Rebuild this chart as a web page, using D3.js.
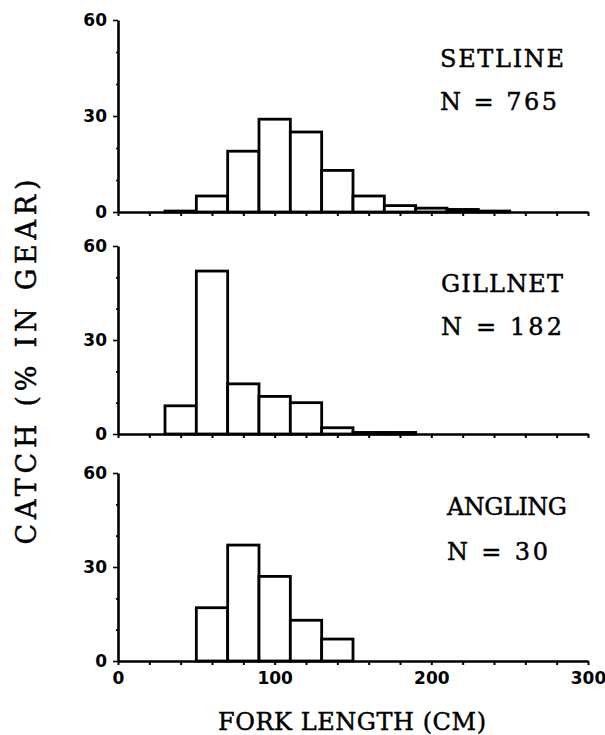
<!DOCTYPE html>
<html>
<head>
<meta charset="utf-8">
<script src="https://cdn.jsdelivr.net/npm/d3@7"></script>
<style>
  body { margin: 0; background: #fff; }
  svg { display: block; }
  .tick text { font-family: "DejaVu Sans", sans-serif; font-weight: bold; font-size: 17px; fill: #000; }
  .lbl { font-family: "DejaVu Serif", serif; font-size: 24px; fill: #000; stroke: #000; stroke-width: 0.45px; }
</style>
</head>
<body>
<svg id="chart" width="605" height="735"></svg>
<script>
// Fork length histograms, % of catch in each gear
const binStart = [30, 50, 70, 90, 110, 130, 150, 170, 190, 210, 230];
const binWidth = 20;
const setline = [0.3, 5, 19, 29, 25, 13, 5, 2, 1.2, 0.8, 0.3];
const gillnet = [9, 52, 16, 12, 10, 2, 0.5, 0.5, 0, 0, 0];
const angling = [0, 17, 37, 27, 13, 7, 0, 0, 0, 0, 0];

const gears = ["SETLINE", "GILLNET", "ANGLING"];
const counts = [765, 182, 30];
const series = [setline, gillnet, angling];

const xTicks = [0, 20, 40, 60, 80, 100, 120, 140, 160, 180, 200, 220, 240, 260, 280, 300];
const xLabels = [0, 100, 200, 300];
const yTicks = [0, 10, 20, 30, 40, 50, 60];
const yLabels = [0, 30, 60];

// layout of the three stacked panels (top / bottom pixel of y axis)
const panelTop = [20, 246, 473];
const panelBottom = [212, 434, 661];
// gear label placement: left x, baselines and text widths
const labelX = [440, 441, 447];
const nameY = [67, 292, 515];
const countY = [110, 335, 560];
const nameW = [124, 122, 120];
const countW = [117, 121, 101];

const svg = d3.select("#chart");

const x = d3.scaleLinear().domain([0, 300]).range([118, 588]);

series.forEach((vals, i) => {
    const y = d3.scaleLinear().domain([0, 60]).range([panelBottom[i], panelTop[i]]);
    const g = svg.append("g");

    const bins = vals.map((v, j) => ({ x0: binStart[j], x1: binStart[j] + binWidth, v: v }))
        .filter(d => d.v > 0);

    g.selectAll("rect")
        .data(bins)
        .enter()
        .append("rect")
        .attr("x", d => x(d.x0))
        .attr("y", d => y(d.v))
        .attr("width", d => x(d.x1) - x(d.x0))
        .attr("height", d => y(0) - y(d.v))
        .style("fill", "#fff")
        .style("stroke", "#000")
        .style("stroke-width", 2.8);

    // x axis
    const isLast = i === series.length - 1;
    const xAxis = d3.axisBottom(x)
        .tickValues(xTicks)
        .tickSize(4)
        .tickSizeOuter(0)
        .tickPadding(7)
        .tickFormat(d => (isLast && xLabels.includes(d)) ? d : "");
    const gx = g.append("g")
        .attr("transform", `translate(0,${y(0)})`)
        .call(xAxis);
    gx.select(".domain").style("stroke-width", 2.6);
    gx.selectAll(".tick line").style("stroke-width", 2);

    // y axis
    const yAxis = d3.axisLeft(y)
        .tickValues(yTicks)
        .tickSize(5)
        .tickSizeOuter(0)
        .tickPadding(6)
        .tickFormat(d => yLabels.includes(d) ? d : "");
    const gy = g.append("g")
        .attr("transform", `translate(${x(0)},0)`)
        .call(yAxis);
    gy.select(".domain").style("stroke-width", 2.6);
    gy.selectAll(".tick line")
        .attr("x2", d => yLabels.includes(d) ? -5 : -2)
        .style("stroke-width", 1.6);

    // gear name and sample size
    g.append("text")
        .attr("class", "lbl")
        .attr("x", labelX[i])
        .attr("y", nameY[i])
        .attr("textLength", nameW[i])
        .attr("lengthAdjust", "spacing")
        .text(gears[i]);
    g.append("text")
        .attr("class", "lbl")
        .attr("x", labelX[i])
        .attr("y", countY[i])
        .attr("textLength", countW[i])
        .attr("lengthAdjust", "spacing")
        .text(`N = ${counts[i]}`);
});

svg.append("text")
    .attr("class", "lbl")
    .attr("transform", "translate(36,362) rotate(-90)")
    .attr("text-anchor", "middle")
    .attr("textLength", 365)
    .attr("lengthAdjust", "spacing")
    .style("font-size", "27px")
    .text("CATCH (% IN GEAR)");

svg.append("text")
    .attr("class", "lbl")
    .attr("x", 352)
    .attr("y", 730)
    .attr("text-anchor", "middle")
    .attr("textLength", 268)
    .attr("lengthAdjust", "spacing")
    .text("FORK LENGTH (CM)");
</script>
</body>
</html>
